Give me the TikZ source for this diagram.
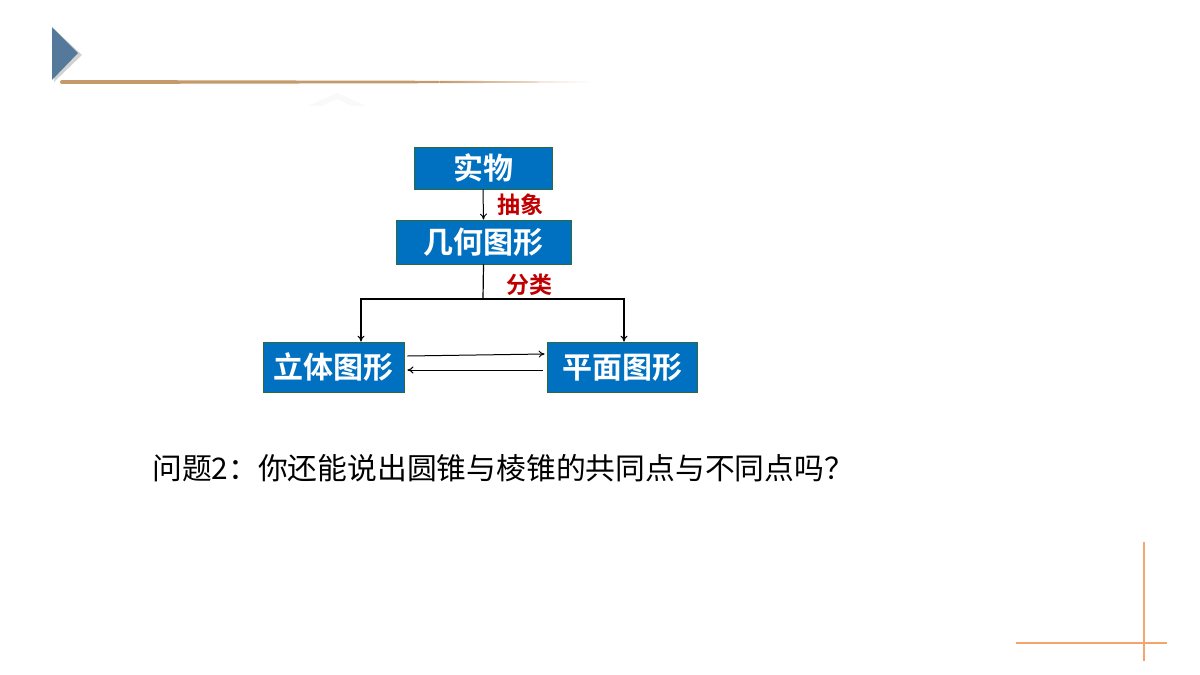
\documentclass[tikz,border=0pt]{standalone}
\usepackage{fontspec}
\newfontfamily\cjk{Noto Sans CJK SC}[BoldFont={Noto Sans CJK SC Bold}]
\usetikzlibrary{arrows.meta}
\definecolor{boxblue}{HTML}{0070C0}
\definecolor{boxedge}{HTML}{2F6B3A}
\definecolor{labelred}{HTML}{C00000}
\definecolor{headblue}{HTML}{55799A}
\definecolor{linebrown}{HTML}{C49A6C}
\definecolor{cornerorange}{HTML}{F4A46C}
\tikzset{
    box/.style={draw=boxedge, line width=0.8pt, fill=boxblue, text=white, inner sep=0pt,
                font=\cjk\bfseries\fontsize{30}{30}\selectfont},
    tag/.style={text=labelred, inner sep=0pt, font=\cjk\bfseries\fontsize{23}{23}\selectfont},
    link/.style={line width=1pt, -{To[length=6pt,width=7pt]}}
}
\begin{document}
\begin{tikzpicture}[x=1pt, y=-1pt]
    \useasboundingbox[fill=white] (0,0) rectangle (1200,675);

        % header
        \fill[gray!35] (54,29) -- (82,55) -- (54,82) -- cycle;
        \fill[headblue] (52,27) -- (78,53) -- (52,80) -- cycle;
        \fill[linebrown, rounded corners=2pt] (60,80) -- (440,80.8) -- (440,83.2) -- (60,84) -- cycle;
        \shade[left color=linebrown, right color=white] (440,80.8) -- (592,81.5) -- (592,82.5) -- (440,83.2) -- cycle;
        \fill[gray!5] (308,106) -- (337,93) -- (366,106) -- (352,106) -- (337,99) -- (322,106) -- cycle;

        % boxes
        \node[box, minimum width=138pt, minimum height=42pt] (shiwu) at(483, 168){实物};
        \node[box, minimum width=175pt, minimum height=44pt] (jihe) at(483.5, 242){几何图形};
        \node[box, minimum width=141pt, minimum height=50pt] (liti) at(333.5, 367){立体图形};
        \node[box, minimum width=150pt, minimum height=50pt] (pingmian) at(622, 367){平面图形};

        \node[tag] (chouxiang) at(520, 205){抽象};
        \node[tag] (fenlei) at(529, 285){分类};

        % arrows
        \draw[link] (shiwu.south) -- (jihe.north);
        \coordinate (fen) at(483, 299);
        \draw[line width=1.2pt] (jihe.south) -- (fen);
        \draw[link, line width=1.2pt] (fen) -| ([xshift=27.5pt]liti.north);
        \draw[link, line width=1.2pt] (fen) -| ([xshift=2pt]pingmian.north);
        \draw[link] ([xshift=3pt, yshift=11pt]liti.east) -- ([xshift=-2pt, yshift=13pt]pingmian.west);
        \draw[link] ([xshift=-4pt, yshift=-3pt]pingmian.west) -- ([xshift=3pt, yshift=-3pt]liti.east);

        % question
        \node[anchor=west, inner sep=0pt, font=\cjk\fontsize{29.8}{29.8}\selectfont] (wenti) at(152, 468){问题2：你还能说出圆锥与棱锥的共同点与不同点吗？};

        % corner
        \draw[cornerorange, line width=1.5pt] (1144, 542) -- (1144, 661);
        \draw[cornerorange, line width=1.5pt] (1016, 643) -- (1167, 643);
\end{tikzpicture}
\end{document}
